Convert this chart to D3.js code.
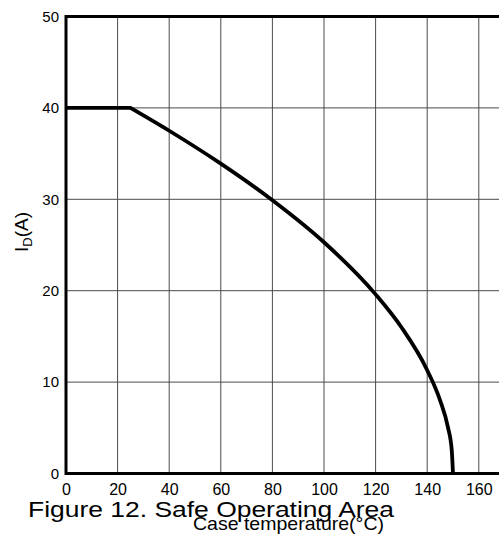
<!DOCTYPE html>
<html>
<head>
<meta charset="utf-8">
<script src="https://cdn.jsdelivr.net/npm/d3@7"></script>
<style>
  html, body { margin: 0; padding: 0; background: #fff; }
  svg { display: block; font-family: "Liberation Sans", Arial, sans-serif; }
</style>
</head>
<body>
<svg id="chart" width="499" height="535"></svg>
<script>
// Derating curve: drain current vs. case temperature
// flat current limit up to the knee, then the thermal derating curve
const flatTemp = [0, 25];
const flatCurrent = [40, 40];
const caseTemp = [25, 40, 60, 80, 100, 120, 130, 140, 145, 148, 149.5, 150];
const drainCurrent = [40, 37.5, 33.9, 29.9, 25.3, 19.6, 16.0, 11.3, 8.0, 5.1, 2.6, 0];

const xTicks = [0, 20, 40, 60, 80, 100, 120, 140, 160];
const yTicks = [0, 10, 20, 30, 40, 50];

const svg = d3.select("#chart");
const W = 499;

const x = d3.scaleLinear().domain([0, 160]).range([66, 478.8]);
const y = d3.scaleLinear().domain([0, 50]).range([473.5, 16.5]);
const xEnd = W;

// grid
const grid = svg.append("g").attr("stroke", "#4a4a4a").attr("stroke-width", 1);
grid.selectAll("line.v").data(xTicks.filter(d => d > 0)).join("line")
  .attr("class", "v")
  .attr("x1", d => x(d)).attr("x2", d => x(d))
  .attr("y1", y(50)).attr("y2", y(0));
grid.selectAll("line.h").data(yTicks.filter(d => d > 0 && d < 50)).join("line")
  .attr("class", "h")
  .attr("x1", x(0)).attr("x2", xEnd)
  .attr("y1", d => y(d)).attr("y2", d => y(d));

// frame: left, top and bottom edges
const frame = svg.append("g").attr("stroke", "#000").attr("stroke-width", 3).attr("fill", "none");
frame.append("line").attr("x1", x(0)).attr("x2", x(0)).attr("y1", y(50) - 1.5).attr("y2", y(0) + 1.5);
frame.append("line").attr("x1", x(0)).attr("x2", xEnd).attr("y1", y(50)).attr("y2", y(50));
frame.append("line").attr("x1", x(0)).attr("x2", xEnd).attr("y1", y(0)).attr("y2", y(0));

// curve: straight current limit + smooth derating segment
const flatPts = flatTemp.map((t, i) => [t, flatCurrent[i]]);
const curvePts = caseTemp.map((t, i) => [t, drainCurrent[i]]);
const straight = d3.line().x(d => x(d[0])).y(d => y(d[1]));
const smooth = d3.line().x(d => x(d[0])).y(d => y(d[1])).curve(d3.curveMonotoneX);
svg.append("path")
  .attr("d", straight(flatPts) + smooth(curvePts).replace(/^M/, "L"))
  .attr("fill", "none")
  .attr("stroke", "#000")
  .attr("stroke-width", 3.8)
  .attr("stroke-linejoin", "miter");

// axes labels
const yAxis = d3.axisLeft(y).tickValues(yTicks).tickSize(0).tickPadding(7).tickFormat(d3.format("d"));
const gy = svg.append("g").attr("transform", `translate(${x(0)},0)`).call(yAxis);
gy.select(".domain").remove();
gy.selectAll("text").attr("font-size", 15).attr("font-family", "Liberation Sans, Arial, sans-serif").attr("fill", "#000");

const xAxis = d3.axisBottom(x).tickValues(xTicks).tickSize(0).tickPadding(10).tickFormat(d3.format("d"));
const gx = svg.append("g").attr("transform", `translate(0,${y(0)})`).call(xAxis);
gx.select(".domain").remove();
gx.selectAll("text").attr("font-size", 16).attr("font-family", "Liberation Sans, Arial, sans-serif").attr("fill", "#000");

// y axis title
const yt = svg.append("text")
  .attr("transform", "translate(28,252) rotate(-90)")
  .attr("font-size", 19)
  .attr("fill", "#000");
yt.append("tspan").text("I");
yt.append("tspan").attr("font-size", 13).attr("dy", 4).text("D");
yt.append("tspan").attr("dy", -4).text("(A)");

// figure caption
svg.append("text")
  .attr("x", 28).attr("y", 517)
  .attr("font-size", 22)
  .attr("textLength", 366)
  .attr("lengthAdjust", "spacingAndGlyphs")
  .attr("fill", "#000")
  .text("Figure 12. Safe Operating Area");

// x axis title
svg.append("text")
  .attr("x", 193).attr("y", 530)
  .attr("font-size", 18.5)
  .attr("textLength", 191)
  .attr("lengthAdjust", "spacingAndGlyphs")
  .attr("fill", "#000")
  .text("Case temperature(°C)");
</script>
</body>
</html>
